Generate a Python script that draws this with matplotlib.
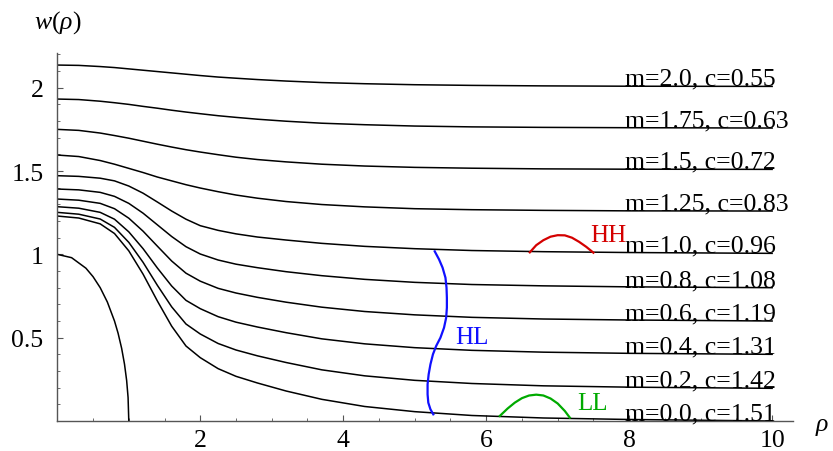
import matplotlib
matplotlib.use("Agg")
from matplotlib import pyplot as plt
from matplotlib.ticker import MultipleLocator

plt.rcParams["font.family"] = ["Liberation Serif", "DejaVu Serif"]
plt.rcParams["mathtext.fontset"] = "custom"
plt.rcParams["mathtext.rm"] = "Liberation Serif"
plt.rcParams["mathtext.it"] = "Liberation Serif:italic"

# sample points
rho = [0, 0.3, 0.6, 0.8, 1.0, 1.2, 1.4, 1.6, 1.8, 2.0, 2.25, 2.5, 2.8, 3.2, 3.7,
       4.3, 5.0, 5.8, 6.8, 8.0, 10.0]

w_m00 = [1.23, 1.218, 1.183, 1.125, 1.021, 0.881, 0.720, 0.569, 0.450, 0.380, 0.314,
         0.268, 0.228, 0.180, 0.130, 0.087, 0.056, 0.033, 0.018, 0.009, 0.0]
w_m02 = [1.252, 1.241, 1.212, 1.162, 1.072, 0.952, 0.814, 0.685, 0.582, 0.522, 0.465,
         0.426, 0.391, 0.351, 0.307, 0.271, 0.244, 0.225, 0.211, 0.203, 0.196]
w_m04 = [1.286, 1.277, 1.252, 1.211, 1.135, 1.034, 0.918, 0.810, 0.724, 0.674, 0.626,
         0.593, 0.564, 0.530, 0.493, 0.463, 0.440, 0.424, 0.413, 0.406, 0.40]
w_m06 = [1.332, 1.325, 1.306, 1.274, 1.217, 1.139, 1.049, 0.960, 0.887, 0.839, 0.796,
         0.768, 0.742, 0.713, 0.683, 0.657, 0.637, 0.622, 0.612, 0.606, 0.60]
w_m08 = [1.392, 1.387, 1.372, 1.348, 1.306, 1.247, 1.177, 1.107, 1.046, 1.002, 0.966,
         0.941, 0.920, 0.896, 0.872, 0.850, 0.832, 0.819, 0.811, 0.805, 0.80]
w_m10 = [1.472, 1.468, 1.457, 1.441, 1.410, 1.367, 1.314, 1.260, 1.211, 1.172, 1.144,
         1.123, 1.104, 1.086, 1.066, 1.048, 1.034, 1.023, 1.016, 1.011, 1.006]
w_m125 = [1.596, 1.587, 1.563, 1.541, 1.516, 1.491, 1.464, 1.441, 1.418, 1.398, 1.376,
          1.356, 1.337, 1.317, 1.299, 1.285, 1.274, 1.268, 1.264, 1.261, 1.26]
w_m15 = [1.75, 1.744, 1.728, 1.713, 1.697, 1.679, 1.661, 1.644, 1.628, 1.614, 1.598,
         1.583, 1.569, 1.555, 1.541, 1.530, 1.522, 1.517, 1.513, 1.511, 1.51]
w_m175 = [1.932, 1.929, 1.919, 1.910, 1.900, 1.888, 1.877, 1.865, 1.854, 1.844, 1.832,
          1.822, 1.811, 1.799, 1.787, 1.778, 1.770, 1.765, 1.762, 1.760, 1.758]
w_m20 = [2.136, 2.134, 2.127, 2.121, 2.113, 2.105, 2.097, 2.089, 2.081, 2.073, 2.064,
         2.057, 2.049, 2.040, 2.031, 2.024, 2.018, 2.014, 2.011, 2.009, 2.008]

curves = [w_m20, w_m175, w_m15, w_m125, w_m10, w_m08, w_m06, w_m04, w_m02, w_m00]
labels = ["m=2.0, c=0.55", "m=1.75, c=0.63", "m=1.5, c=0.72", "m=1.25, c=0.83",
          "m=1.0, c=0.96", "m=0.8, c=1.08", "m=0.6, c=1.19", "m=0.4, c=1.31",
          "m=0.2, c=1.42", "m=0.0, c=1.51"]

# the small curve that drops to zero at rho=1
rho_c = [0, 0.2, 0.4, 0.5, 0.6, 0.7, 0.8, 0.85, 0.9, 0.94, 0.97, 0.99, 1.0]
w_c = [1.0, 0.98, 0.917, 0.866, 0.8, 0.714, 0.6, 0.527, 0.436, 0.341, 0.243, 0.141, 0.0]

# boundary curves
hl_x = [5.28, 5.34, 5.39, 5.43, 5.445, 5.45, 5.45, 5.44, 5.41, 5.36, 5.30, 5.255,
        5.22, 5.195, 5.18, 5.18, 5.19, 5.22, 5.26]
hl_y = [1.018, 0.97, 0.92, 0.86, 0.80, 0.74, 0.68, 0.62, 0.56, 0.50, 0.45, 0.40,
        0.34, 0.28, 0.22, 0.16, 0.11, 0.07, 0.04]
hh_x = [6.61, 6.7, 6.8, 6.9, 7.0, 7.1, 7.2, 7.3, 7.4, 7.5]
hh_y = [1.012, 1.055, 1.085, 1.106, 1.115, 1.114, 1.100, 1.075, 1.045, 1.010]
ll_x = [6.19, 6.3, 6.4, 6.5, 6.6, 6.7, 6.8, 6.9, 7.0, 7.1, 7.17]
ll_y = [0.03, 0.075, 0.11, 0.137, 0.153, 0.158, 0.153, 0.135, 0.105, 0.06, 0.02]

red = "#d40000"
blue = "#1010ff"
green = "#00aa00"

fig = plt.figure(figsize=(8.33, 4.52), dpi=100)
ax = fig.add_axes([0.0688, 0.0664, 0.883, 0.814])

for w in curves:
    ax.plot(rho, w, color="black", lw=1.1)
ax.plot(rho_c, w_c, color="black", lw=1.1)

ax.plot(hl_x, hl_y, color=blue, lw=1.6)
ax.plot(hh_x, hh_y, color=red, lw=1.6)
ax.plot(ll_x, ll_y, color=green, lw=1.6)

for w, lab in zip(curves, labels):
    ax.text(7.94, w[-1] + 0.01, lab, fontsize=18.5, ha="left", va="baseline")

ax.text(7.45, 1.081, "HH", color=red, fontsize=18, va="baseline")
ax.text(5.56, 0.468, "HL", color=blue, fontsize=18, va="baseline")
ax.text(7.27, 0.072, "LL", color=green, fontsize=18, va="baseline")

ax.set_xlim(0, 10.29)
ax.set_ylim(0, 2.208)
ax.spines["top"].set_visible(False)
ax.spines["right"].set_visible(False)
for s in ("left", "bottom"):
    ax.spines[s].set_color("#555555")
    ax.spines[s].set_linewidth(1.0)

ax.xaxis.set_minor_locator(MultipleLocator(0.5))
ax.yaxis.set_minor_locator(MultipleLocator(0.1))
ax.set_xticks([2, 4, 6, 8, 10])
ax.set_xticklabels(["2", "4", "6", "8", "10"])
ax.set_yticks([0.5, 1, 1.5, 2])
ax.set_yticklabels(["0.5", "1", "1.5", "2"])
ax.tick_params(which="major", direction="in", length=4, width=0.8, labelsize=18.5, color="#555555")
ax.tick_params(which="minor", direction="in", length=2.5, width=0.6, color="#555555")
ax.tick_params(axis="y", pad=10)
ax.tick_params(axis="x", pad=6)

fig.text(0.069, 0.949, r"$w(\rho)$", fontsize=18.5, ha="center", va="center")
fig.text(0.987, 0.055, r"$\rho$", fontsize=18.5, ha="center", va="center")

fig.savefig("out.png", dpi=100)
